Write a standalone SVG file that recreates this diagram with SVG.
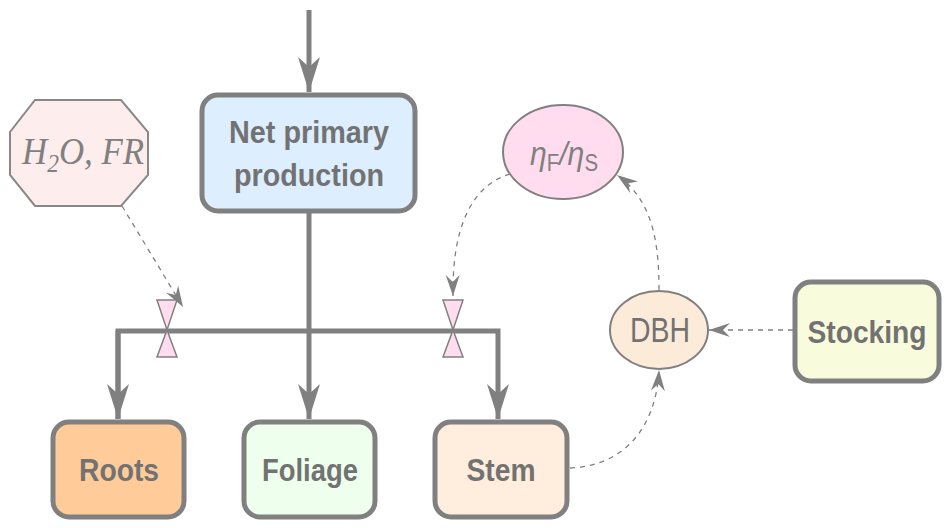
<svg xmlns="http://www.w3.org/2000/svg" width="950" height="528" viewBox="0 0 950 528">
<style>
.box{stroke:#808080;stroke-width:5}
.lbl{font-family:"Liberation Sans",Arial,sans-serif;font-weight:bold;font-size:31px;fill:#727272;text-anchor:middle}
.reg{font-family:"Liberation Sans",Arial,sans-serif;font-size:35px;fill:#727272;text-anchor:middle}
.flow{fill:none;stroke:#808080;stroke-width:5}
.dash{fill:none;stroke:#808080;stroke-width:1.3;stroke-dasharray:5,5}
.valve{fill:#ffdcee;stroke:#808080;stroke-width:1.5}
</style>
<defs>
<marker id="big" markerUnits="userSpaceOnUse" viewBox="0 0 36 24" refX="35" refY="12" markerWidth="36" markerHeight="24" orient="auto">
<path d="M0,1 L35,12 L0,23 L10,12 z" fill="#808080"/>
</marker>
<marker id="small" markerUnits="userSpaceOnUse" viewBox="0 0 22 16" refX="21" refY="8" markerWidth="22" markerHeight="16" orient="auto">
<path d="M0,1 L21,8 L0,15 L7,8 z" fill="#808080"/>
</marker>
</defs>
<rect width="950" height="528" fill="#ffffff"/>
<g id="connectors">
<path class="flow" d="M309,10 L309,92" marker-end="url(#big)"/>
<path class="flow" d="M309,212 L309,419" marker-end="url(#big)"/>
<path class="flow" d="M118,419 L118,331 L498,331 L498,419" marker-end="url(#big)"/>
<path class="flow" d="M118,331 L118,419" marker-end="url(#big)"/>
<path class="dash" d="M122,206 L183,307" marker-end="url(#small)"/>
<path class="dash" d="M510,174 C470,186 452,230 453,296" marker-end="url(#small)"/>
<path class="dash" d="M659,290 C659,240 652,200 617,175" marker-end="url(#small)"/>
<path class="dash" d="M793,330 L709,330" marker-end="url(#small)"/>
<path class="dash" d="M570,468 C622,466 656,430 659,370" marker-end="url(#small)"/>
</g>
<g id="valve-roots">
<path class="valve" d="M157,300 L177,300 L167,330 z"/>
<path class="valve" d="M167,330 L177,357 L157,357 z"/>
</g>
<g id="valve-stem">
<path class="valve" d="M443,300 L463,300 L453,330 z"/>
<path class="valve" d="M453,330 L463,357 L443,357 z"/>
</g>
<g id="npp">
<rect class="box" x="202" y="95" width="213" height="116" rx="16" fill="#ddeeff"/>
<text class="lbl" x="309" y="143" textLength="160" lengthAdjust="spacingAndGlyphs">Net primary</text>
<text class="lbl" x="309" y="186" textLength="150" lengthAdjust="spacingAndGlyphs">production</text>
</g>
<g id="h2o">
<polygon points="35,100 121,100 148,132 148,175 121,206 35,206 10,175 10,132" fill="#fdeded" stroke="#888888" stroke-width="2"/>
<text x="83" y="164" font-family="Liberation Serif,'Times New Roman',serif" font-style="italic" font-size="37" fill="#808080" text-anchor="middle" textLength="122" lengthAdjust="spacingAndGlyphs">H<tspan font-size="25" dy="8">2</tspan><tspan dy="-8">O, FR</tspan></text>
</g>
<g id="eta">
<ellipse cx="563" cy="152" rx="60" ry="47" fill="#ffdcee" stroke="#808080" stroke-width="2"/>
<text x="564" y="165" font-family="'Liberation Sans',Arial,sans-serif" font-style="italic" font-size="34" fill="#808080" text-anchor="middle" textLength="68" lengthAdjust="spacingAndGlyphs">η<tspan font-size="23" dy="6" font-style="normal">F</tspan><tspan dy="-6">/η</tspan><tspan font-size="23" dy="6" font-style="normal">S</tspan></text>
</g>
<g id="dbh">
<ellipse cx="659" cy="330" rx="49" ry="39" fill="#fdebd9" stroke="#808080" stroke-width="2"/>
<text class="reg" x="660" y="342" textLength="60" lengthAdjust="spacingAndGlyphs">DBH</text>
</g>
<g id="stocking">
<rect class="box" x="795" y="282" width="144" height="99" rx="16" fill="#f8fcdc"/>
<text class="lbl" x="867" y="343" textLength="119" lengthAdjust="spacingAndGlyphs">Stocking</text>
</g>
<g id="roots">
<rect class="box" x="53" y="422" width="131" height="95" rx="16" fill="#ffcc99"/>
<text class="lbl" x="119" y="481" textLength="80" lengthAdjust="spacingAndGlyphs">Roots</text>
</g>
<g id="foliage">
<rect class="box" x="244" y="422" width="131" height="95" rx="16" fill="#eeffee"/>
<text class="lbl" x="310" y="481" textLength="96" lengthAdjust="spacingAndGlyphs">Foliage</text>
</g>
<g id="stem">
<rect class="box" x="435" y="422" width="132" height="95" rx="16" fill="#ffeedd"/>
<text class="lbl" x="501" y="481" textLength="69" lengthAdjust="spacingAndGlyphs">Stem</text>
</g>
</svg>
